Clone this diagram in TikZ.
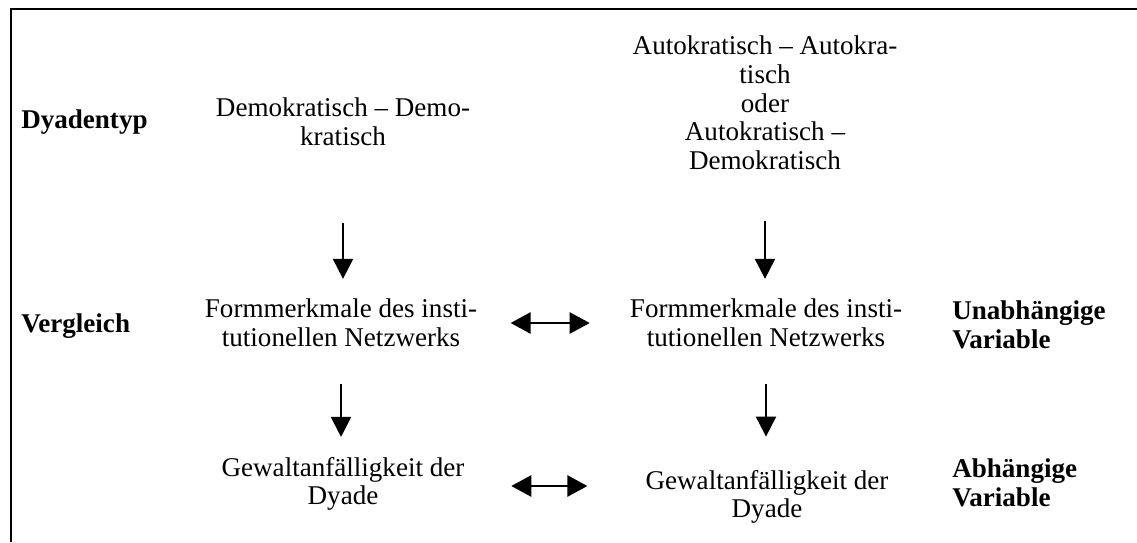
\documentclass[tikz,border=0pt]{standalone}
\usepackage{fontspec}
\setmainfont{Liberation Serif}
\usetikzlibrary{arrows.meta}

\begin{document}
\begin{tikzpicture}[x=0.75pt,y=-0.75pt,
    txt/.style={align=center,inner sep=0pt,font=\fontsize{20.3}{21.5}\selectfont},
    lbl/.style={align=left,anchor=west,inner sep=0pt,font=\fontsize{20.3}{21.5}\selectfont\bfseries},
    arr/.style={line width=1.5pt,-{Triangle[length=15pt,width=15pt]}},
    both/.style={line width=1.2pt,{Triangle[length=15pt,width=16pt]}-{Triangle[length=15pt,width=16pt]}}]
  \useasboundingbox (0,0) rectangle (1137,542);
  % frame, open at the bottom
  \draw[line width=1.5pt] (11,542) -- (11,9) -- (1137,9);

  % row labels
  \node[lbl] (dyad) at (21,122) {Dyadentyp};
  \node[lbl] (vergl) at (21,326) {Vergleich};
  \node[lbl] (unab) at (952,325) {Unabhängige\\Variable};
  \node[lbl] (abh) at (952,483) {Abhängige\\Variable};

  % left column
  \node[txt] (demo) at (343,122) {Demokratisch – Demo-\\kratisch};
  \node[txt] (form1) at (341,323) {Formmerkmale des insti-\\tutionellen Netzwerks};
  \node[txt] (gew1) at (343,484) {Gewaltanfälligkeit der\\Dyade};

  % right column
  \node[txt] (auto) at (765,103) {Autokratisch – Autokra-\\tisch\\oder\\Autokratisch –\\Demokratisch};
  \node[txt] (form2) at (766,323) {Formmerkmale des insti-\\tutionellen Netzwerks};
  \node[txt] (gew2) at (767,497) {Gewaltanfälligkeit der\\Dyade};

  \draw[arr,shorten <=57.5pt,shorten >=15pt] (demo.south) -- (demo.south |- form1.north);
  \draw[arr,shorten <=38.5pt,shorten >=15pt] (auto.south) -- (auto.south |- form2.north);
  \draw[arr,shorten <=28pt,shorten >=15pt] (form1.south) -- (form1.south |- gew1.north);
  \draw[arr,shorten <=28pt,shorten >=25pt] (form2.south) -- (form2.south |- gew2.north);
  \draw[both,shorten <=25pt,shorten >=30pt] (form1.east) -- (form2.west);
  \draw[both,shorten <=35pt,shorten >=43.5pt] ([yshift=-1.5pt]gew1.east) -- ([yshift=-1.5pt]gew1.east -| gew2.west);
\end{tikzpicture}
\end{document}
